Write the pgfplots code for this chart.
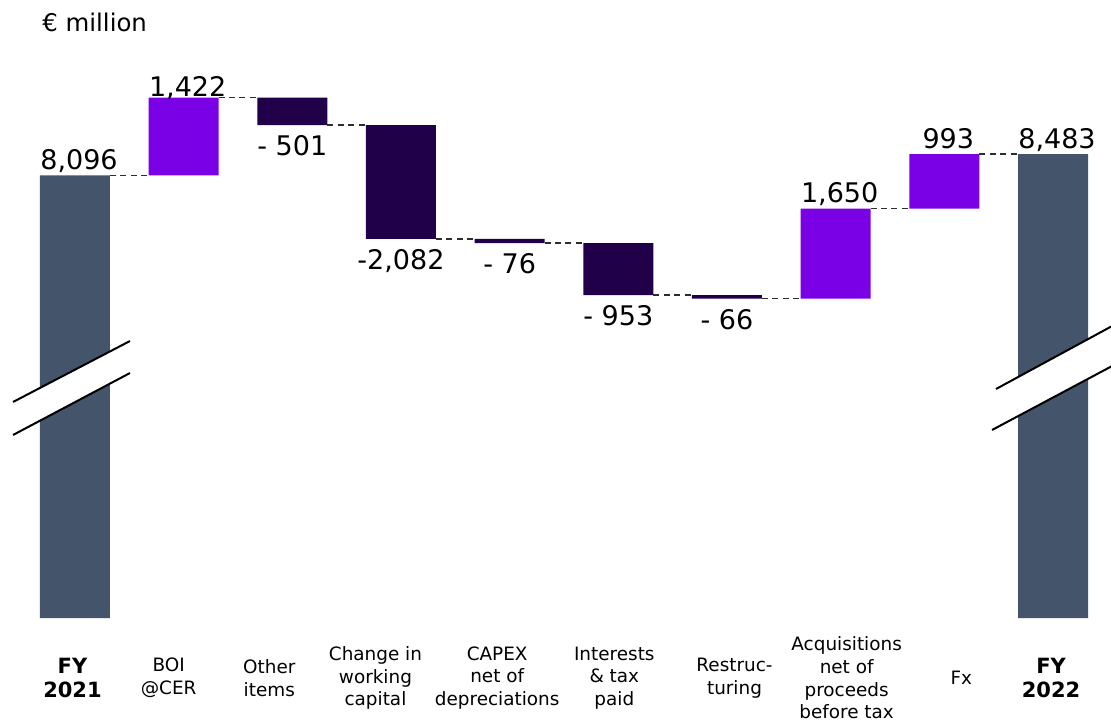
\documentclass[border=0pt]{standalone}
\usepackage{pgfplots}
\pgfplotsset{compat=1.18}
\usepackage{fontspec}
\setmainfont{DejaVu Sans}
\definecolor{cgray}{RGB}{68,84,106}
\definecolor{cpos}{RGB}{122,0,230}
\definecolor{cneg}{RGB}{32,0,72}
\definecolor{cdash}{RGB}{45,45,45}
\newcommand\fy[1]{{\fontsize{10.5}{12.5}\selectfont\bfseries #1}}
\newcommand\vfont{\fontsize{13.5}{16}\selectfont}
\begin{document}
\begin{tikzpicture}
\pgfplotsset{
  wfaxis/.style={
    scale only axis, width=555.5pt, height=309pt,
    xmin=-0.690, xmax=9.534, ymin=0, ymax=11304,
    enlargelimits=false,
    axis line style={draw=none}, ytick=\empty,
    clip=false, at={(0pt,0pt)}, anchor=south west,
  }
}
\begin{axis}[wfaxis, ybar stacked, bar width=35pt,
  xtick={-0.023,0.862,1.788,2.765,3.885,4.963,6.069,7.101,8.156,8.982},
  xticklabels={{\fy{FY}\\[0.6pt]\fy{2021}},{BOI\\@CER},{Other\\items},{Change in\\working\\capital},{CAPEX\\net of\\depreciations},{Interests\\\& tax\\paid},{Restruc-\\turing},{Acquisitions\\net of\\proceeds\\before tax},{Fx},{\fy{FY}\\[0.6pt]\fy{2022}}},
  major tick length=0pt,
  xticklabel style={font=\fontsize{9.2}{11.3}\selectfont, align=center, anchor=center, yshift=-30pt, text=black},
]
% invisible base (lower level of each floating bar)
\addplot[draw=none, fill=none] coordinates {(0,0) (1,8096) (2,9017) (3,6935) (4,6859) (5,5906) (6,5840) (7,5840) (8,7490) (9,0)};
% totals
\addplot[draw=none, fill=cgray] coordinates {(0,8096) (1,0) (2,0) (3,0) (4,0) (5,0) (6,0) (7,0) (8,0) (9,8483)};
% increases
\addplot[draw=none, fill=cpos] coordinates {(0,0) (1,1422) (2,0) (3,0) (4,0) (5,0) (6,0) (7,1650) (8,993) (9,0)};
% decreases (magnitudes)
\addplot[draw=none, fill=cneg] coordinates {(0,0) (1,0) (2,501) (3,2082) (4,76) (5,953) (6,66) (7,0) (8,0) (9,0)};
\end{axis}
\begin{axis}[wfaxis, hide axis]
\addplot[cdash, line width=0.75pt, dash pattern=on 3pt off 2.2pt, unbounded coords=jump, mark=none]
  coordinates {(0.322,8096) (0.678,8096) (nan,nan)
               (1.322,9518) (1.678,9518) (nan,nan)
               (2.322,9017) (2.678,9017) (nan,nan)
               (3.322,6935) (3.678,6935) (nan,nan)
               (4.322,6859) (4.678,6859) (nan,nan)
               (5.322,5906) (5.678,5906) (nan,nan)
               (6.322,5840) (6.678,5840) (nan,nan)
               (7.322,7490) (7.678,7490) (nan,nan)
               (8.322,8483) (8.678,8483)};
% labels above bars
\addplot[only marks, mark=none, nodes near coords, point meta=explicit symbolic,
  nodes near coords align={center},
  every node near coord/.append style={font=\vfont, anchor=base, yshift=3pt, xshift=2pt, inner sep=0pt, text=black}]
  coordinates {(0,8096)[{8,096}] (7,7490)[{1,650}] (8,8483)[{993}] (9,8483)[{8,483}]};
\addplot[only marks, mark=none, nodes near coords, point meta=explicit symbolic,
  nodes near coords align={center},
  every node near coord/.append style={font=\vfont, anchor=base, yshift=0.8pt, xshift=2pt, inner sep=0pt, text=black}]
  coordinates {(1,9518)[{1,422}]};
% labels below bars
\addplot[only marks, mark=none, nodes near coords, point meta=explicit symbolic,
  nodes near coords align={center},
  every node near coord/.append style={font=\vfont, anchor=north, yshift=-5pt, inner sep=0pt, text=black}]
  coordinates {(2,9017)[{- 501}] (3,6935)[{-2,082}] (4,6859)[{- 76}] (5,5906)[{- 953}] (6,5840)[{- 66}]};
\end{axis}
% axis break marks
\fill[white] (6.5pt,108pt) -- (65pt,138.5pt) -- (65pt,122.5pt) -- (6.5pt,91.5pt) -- cycle;
\draw[black, line width=1pt] (6.5pt,108pt) -- (65pt,138.5pt);
\draw[black, line width=1pt] (6.5pt,91.5pt) -- (65pt,122.5pt);
\fill[white] (498pt,114.5pt) -- (557pt,146.5pt) -- (557pt,126.5pt) -- (496pt,94pt) -- cycle;
\draw[black, line width=1pt] (498pt,114.5pt) -- (557pt,146.5pt);
\draw[black, line width=1pt] (496pt,94pt) -- (557pt,126.5pt);
\node[anchor=base west, inner sep=0pt, font=\fontsize{12.2}{14}\selectfont] at (21pt,293.2pt) {€ million};
\pgfresetboundingbox
\path[use as bounding box] (0pt,-52.5pt) rectangle (555.5pt,309pt);
\end{tikzpicture}
\end{document}
